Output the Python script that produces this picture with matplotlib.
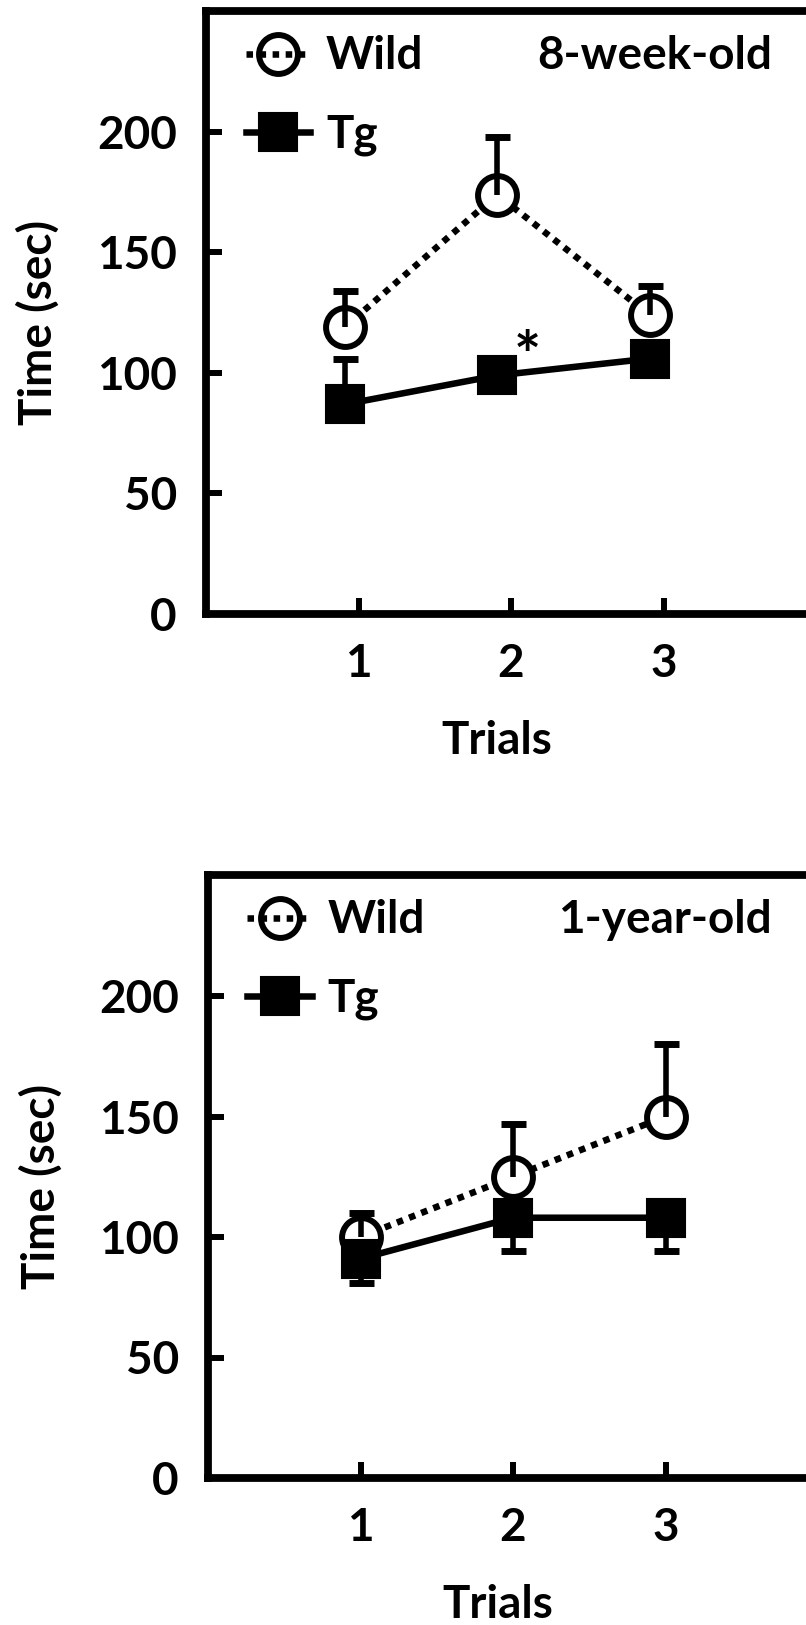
import matplotlib.pyplot as plt
import numpy as np

# ---- data ----
trials = [1, 2, 3]

# 8-week-old
wild_8w = [119, 174, 124]
wild_8w_err = [15, 24, 12]
tg_8w = [87, 99, 106]
tg_8w_err = [19, 5, 5]

# 1-year-old
wild_1y = [100, 125, 150]
wild_1y_err = [10, 22, 30]
tg_1y = [91, 108, 108]
tg_1y_err = [10, 14, 14]

yticks = [0, 50, 100, 150, 200]

plt.rcParams['font.family'] = ['Lato', 'DejaVu Sans']
plt.rcParams['font.weight'] = 'bold'
FS = 33

fig = plt.figure(figsize=(8.06, 16.25), dpi=100)


def one_sided(ax, x, y, err, up, z):
    zero = [0] * len(err)
    yerr = [zero, err] if up else [err, zero]
    eb = ax.errorbar(x, y, yerr=yerr, fmt='none', ecolor='black',
                     elinewidth=4, capsize=9, capthick=5, zorder=z)
    # drop the cap that would sit on the mean itself
    caps = eb.lines[1]
    caps[0 if up else 1].set_visible(False)


def panel(ax, wild, wild_err, tg, tg_err, tg_up, title, shift, xmax):
    x = np.array(trials) - shift

    # Wild: dotted line, open circles, upper error only
    ax.plot(x, wild, color='black', lw=4.7, ls=(0, (1, 1)),
            dash_capstyle='butt', zorder=2)
    ax.plot(x, wild, ls='none', marker='o', ms=28, mew=4.3,
            mec='black', mfc='white', zorder=3)
    one_sided(ax, x, wild, wild_err, True, 4)

    # Tg: solid line, filled squares
    ax.plot(x, tg, color='black', lw=4.7, marker='s', ms=27, mew=1.5,
            mec='black', mfc='black', zorder=5)
    one_sided(ax, x, tg, tg_err, tg_up, 6)

    ax.set_xlim(0, xmax)
    ax.set_ylim(0, 250)
    ax.set_xticks(trials)
    ax.set_xticklabels([str(t) for t in trials])
    ax.set_yticks(yticks)
    ax.tick_params(axis='both', direction='in', length=11.5, width=4.3,
                   pad=21, labelsize=FS)
    for s in ['left', 'bottom', 'top']:
        ax.spines[s].set_linewidth(5.6)
    ax.spines['right'].set_visible(False)

    ax.set_ylabel('Time (sec)', fontsize=FS, fontweight='bold')
    ax.yaxis.set_label_coords(-0.243, 0.484)
    ax.text(0.485, -0.233, 'Trials', transform=ax.transAxes, ha='center',
            va='baseline', fontsize=FS, fontweight='bold')

    ax.text(0.943, 0.905, title, transform=ax.transAxes, ha='right',
            va='baseline', fontsize=FS, fontweight='bold')

    # legend drawn by hand
    lx = [0.066, 0.12, 0.174]
    ax.plot(lx, [0.93] * 3, transform=ax.transAxes, color='black', lw=4.7,
            ls=(0, (1, 1)), dash_capstyle='butt', marker='o', markevery=[1],
            ms=28, mew=4.3, mec='black', mfc='none', clip_on=False)
    ax.plot(lx, [0.8] * 3, transform=ax.transAxes, color='black', lw=4.7,
            marker='s', markevery=[1], ms=27, mew=1.5, mec='black',
            mfc='black', clip_on=False)
    ax.text(0.2, 0.905, 'Wild', transform=ax.transAxes, ha='left',
            va='baseline', fontsize=FS, fontweight='bold')
    ax.text(0.2, 0.775, 'Tg', transform=ax.transAxes, ha='left',
            va='baseline', fontsize=FS, fontweight='bold')


ax1 = fig.add_axes([206 / 806, 1 - 614 / 1625, 600 / 806, 602.5 / 1625])
panel(ax1, wild_8w, wild_8w_err, tg_8w, tg_8w_err, True, '8-week-old',
      0.09, 600 / 152.5)
ax1.annotate('*', xy=(2 - 0.09, tg_8w[1]), xytext=(21.5, -2),
             textcoords='offset points', ha='center', va='baseline',
             fontsize=46, fontweight='bold')

ax2 = fig.add_axes([208 / 806, 1 - 1478 / 1625, 598 / 806, 602.5 / 1625])
panel(ax2, wild_1y, wild_1y_err, tg_1y, tg_1y_err, False, '1-year-old',
      0.0, 598 / 152.5)

fig.savefig('out.png', dpi=100)
